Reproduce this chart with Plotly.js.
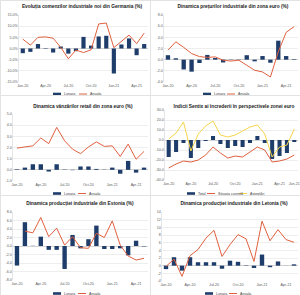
<!DOCTYPE html>
<html>
<head>
<meta charset="utf-8">
<script src="https://cdn.plot.ly/plotly-3.0.1.min.js"></script>
<style>
html,body{margin:0;padding:0;background:#fff;width:300px;height:295px;overflow:hidden}
.p{position:absolute;box-sizing:border-box;border:1px solid #e3e3e3}
</style>
</head>
<body>
<div id="p1" class="p" style="left:0;top:0;width:150px;height:95px"></div>
<div id="p2" class="p" style="left:150px;top:0;width:150px;height:95px"></div>
<div id="p3" class="p" style="left:0;top:95px;width:150px;height:100px"></div>
<div id="p4" class="p" style="left:150px;top:95px;width:150px;height:100px"></div>
<div id="p5" class="p" style="left:0;top:195px;width:150px;height:100px"></div>
<div id="p6" class="p" style="left:150px;top:195px;width:150px;height:100px"></div>
<script>
// ---------- data ----------
const months17 = ["Jan-20","Feb-20","Mar-20","Apr-20","May-20","Jun-20","Jul-20","Aug-20","Sep-20","Oct-20","Nov-20","Dec-20","Jan-21","Feb-21","Mar-21","Apr-21","May-21"];
const months18 = months17.concat(["Jun-21"]);
const xTicks17 = ["Jan-20","Apr-20","Jul-20","Oct-20","Jan-21","Apr-21"];
const xTicks18 = ["Jan-20","Apr-20","Jul-20","Oct-20","Jan-21","Apr-21","Jun-21"];

// Panel 1: Germany new industrial orders (%)
const deMonthly = [-2.1,-1.5,2.0,0.2,-1.8,0.9,-2.3,-1.2,5.2,1.3,5.4,5.7,-11.2,1.8,4.5,-3.0,2.0];
const deAnnual  = [4.2,1.5,5.0,5.2,4.6,0.5,-4.6,-0.7,-1.8,-0.6,11.0,11.4,0.4,3.4,6.0,2.2,6.9];
const p1YTicks = [-15,-10,-5,0,5,10,15];

// Panel 2: Euro area industrial producer prices (%)
const ppiMonthly = [0.8,0.25,-1.75,-2.15,-0.6,0.85,0.3,-0.5,0.05,0.05,0.8,-0.3,0.65,-0.55,3.4,0.65,0.1];
const ppiAnnual  = [1.7,3.2,2.2,1.1,0.55,0.4,0.5,-0.1,-0.25,-0.1,-1.0,-1.9,-2.2,-3.1,1.4,4.9,5.9];
const p2YTicks = [-4,-2,0,2,4,6,8];

// Panel 3: Euro area retail sales (%)
const retMonthly = [0.05,0.2,0.5,0.5,-0.15,0.5,0.03,-0.03,0.3,0.3,0.08,0.02,0.2,-0.35,0.8,-0.25,0.2];
const retAnnual  = [1.95,2.05,2.15,2.85,2.35,3.8,2.6,1.85,1.45,2.05,2.5,2.1,2.15,1.2,2.3,0.95,1.65];
const p3YTicks = [-1,0,1,2,3,4,5];

// Panel 4: Sentix euro area
const sxTotal    = [-17,-12,-3,-18,-8,-1,4,-4,-8,-6,-7,-3,4,-3,-19,-16,-13,-2];
const sxCurrent  = [-28,-24,-21,-22,-20,-15,-7,-13,-18,-16,-17,-12,-7,-10,-22,-21,-19,-15];
const sxExpect   = [1,7,18,-11,6,14,19,5,3,5,9,13,15,6,-17,-7,-5,11];
const p4YTicks = [-40,-30,-20,-10,0,10,20,30];

// Panel 5: Estonia industrial production (%)
const eeMonthly = [-4.6,5.6,0.05,2.2,-0.9,-0.9,-5.4,2.6,-0.55,1.6,4.8,-0.7,-0.7,-0.55,-2.2,1.25,-0.1];
const eeAnnual  = [null,3.5,3.1,6.7,2.2,4.2,0.2,2.2,-0.4,-0.55,3.0,2.0,5.9,0.2,-2.35,-3.3,-2.9];
const p5YTicks = [-8,-6,-4,-2,0,2,4,6,8];

// Panel 6: Latvia industrial production (%)
const lvMonthly = [-0.9,2.2,-1.3,2.2,0.9,0.9,0.9,-0.8,1.3,1.0,0.1,-0.6,2.9,-0.4,1.1,0.02,0.35];
const lvAnnual  = [-0.2,1.7,-2.8,2.6,4.2,7.2,9.2,2.4,5.5,8.1,7.0,1.1,11.6,6.5,9.4,6.8,6.1];
const p6YTicks = [-4,-2,0,2,4,6,8,10,12,14];

// ---------- styling ----------
const BAR = "#1f3d6b", RED = "#e0603f", YEL = "#f5d54a";
const TF = "Liberation Sans Narrow, Liberation Sans, Arial, sans-serif";
const LF = "Liberation Sans, Arial, sans-serif";
const W = 150;

function panel(id, o) {
  const plotW = W - o.l - 3, plotH = o.h - o.t - o.b;
  const px = x => (x - o.l) / plotW;
  const py = y => (o.h - o.b - y) / plotH;
  const shapes = [], ann = [];
  o.traces.forEach((tr, i) => {
    const sx = o.leg[i], ly = o.legY;
    if (tr.type === "bar") {
      shapes.push({type: "rect", xref: "paper", yref: "paper", x0: px(sx), x1: px(sx + 8),
        y0: py(ly + 1.3), y1: py(ly - 1.3), fillcolor: BAR, line: {width: 0}});
    } else {
      shapes.push({type: "line", xref: "paper", yref: "paper", x0: px(sx), x1: px(sx + 8),
        y0: py(ly), y1: py(ly), line: {color: tr.line.color, width: 1}});
    }
    ann.push({xref: "paper", yref: "paper", x: px(sx + 9.5), y: py(ly), xanchor: "left",
      yanchor: "middle", text: tr.name, showarrow: false, borderpad: 0,
      font: {family: LF, size: 3.6, color: "#404040"}});
  });
  const layout = {
    width: W, height: o.h,
    margin: {l: o.l, r: 3, t: o.t, b: o.b, pad: 0},
    paper_bgcolor: "#fff", plot_bgcolor: "#fff",
    title: {text: o.title, x: o.tx / W, y: 1 - o.ty / o.h, xref: "container", yref: "container",
            xanchor: "center", yanchor: "middle",
            font: {family: TF, size: 4.8, color: "#1a1a1a", weight: "bold"}},
    bargap: 0.45,
    showlegend: false,
    shapes: shapes, annotations: ann,
    xaxis: {type: "category", tickvals: o.xt, ticktext: o.xt, ticks: "", showgrid: false,
            showline: false, tickangle: 0, automargin: false,
            tickfont: {family: LF, size: 3.6, color: "#595959"}, fixedrange: true},
    yaxis: {range: [o.yt[0], o.yt[o.yt.length-1]], tickvals: o.yt, automargin: false,
            ticktext: o.yt.map(o.fmt), showgrid: true, gridcolor: "#e2e2e2", gridwidth: 0.6,
            zeroline: true, zerolinecolor: "#c8c8c8", zerolinewidth: 0.8,
            showline: true, linecolor: "#d6d6d6", linewidth: 0.6, ticks: "",
            tickfont: {family: LF, size: 3.6, color: "#595959"}, fixedrange: true}
  };
  Plotly.newPlot(id, o.traces, layout, {staticPlot: true, displayModeBar: false});
}
function bar(x, y, name) { return {type: "bar", x: x, y: y, name: name, marker: {color: BAR}}; }
function line(x, y, name, c) { return {type: "scatter", mode: "lines", x: x, y: y, name: name,
  line: {color: c, width: 1}, connectgaps: false}; }

const f1 = v => v.toFixed(1);
panel("p1", {h: 95, l: 18, t: 14, b: 14, title: "Evoluția comenzilor industriale noi din Germania (%)",
  tx: 81, ty: 5, legY: 93, leg: [52, 78], xt: xTicks17, yt: p1YTicks, fmt: v => v.toFixed(1) + "%",
  traces: [bar(months17, deMonthly, "Lunara"), line(months17, deAnnual, "Anuala", RED)]});
panel("p2", {h: 95, l: 13, t: 14, b: 14, title: "Dinamica prețurilor industriale din zona euro (%)",
  tx: 82, ty: 5, legY: 93, leg: [52, 76], xt: xTicks17, yt: p2YTicks, fmt: f1,
  traces: [bar(months17, ppiMonthly, "Lunara"), line(months17, ppiAnnual, "Anuala", RED)]});
panel("p3", {h: 100, l: 12, t: 18, b: 15, title: "Dinamica vânzărilor retail din zona euro (%)",
  tx: 82, ty: 10, legY: 97.5, leg: [52, 77], xt: xTicks17, yt: p3YTicks, fmt: f1,
  traces: [bar(months17, retMonthly, "Lunara"), line(months17, retAnnual, "Anuala", RED)]});
panel("p4", {h: 100, l: 14, t: 14, b: 16, title: "Indicii Sentix ai încrederii în perspectivele zonei euro",
  tx: 83, ty: 10, legY: 97.5, leg: [36, 56, 88], xt: xTicks18, yt: p4YTicks, fmt: f1,
  traces: [bar(months18, sxTotal, "Total"), line(months18, sxCurrent, "Situația curentă", RED),
           line(months18, sxExpect, "Așteptări", YEL)]});
panel("p5", {h: 100, l: 12, t: 16, b: 16, title: "Dinamica producției industriale din Estonia (%)",
  tx: 79, ty: 7, legY: 97.5, leg: [52, 77], xt: xTicks17, yt: p5YTicks, fmt: f1,
  traces: [bar(months17, eeMonthly, "Lunara"), line(months17, eeAnnual, "Anuala", RED)]});
panel("p6", {h: 100, l: 11, t: 16, b: 15, title: "Dinamica producției industriale din Letonia (%)",
  tx: 83, ty: 7, legY: 97.5, leg: [54, 78], xt: xTicks17, yt: p6YTicks, fmt: v => String(v),
  traces: [bar(months17, lvMonthly, "Lunara"), line(months17, lvAnnual, "Anuala", RED)]});
</script>
</body>
</html>
